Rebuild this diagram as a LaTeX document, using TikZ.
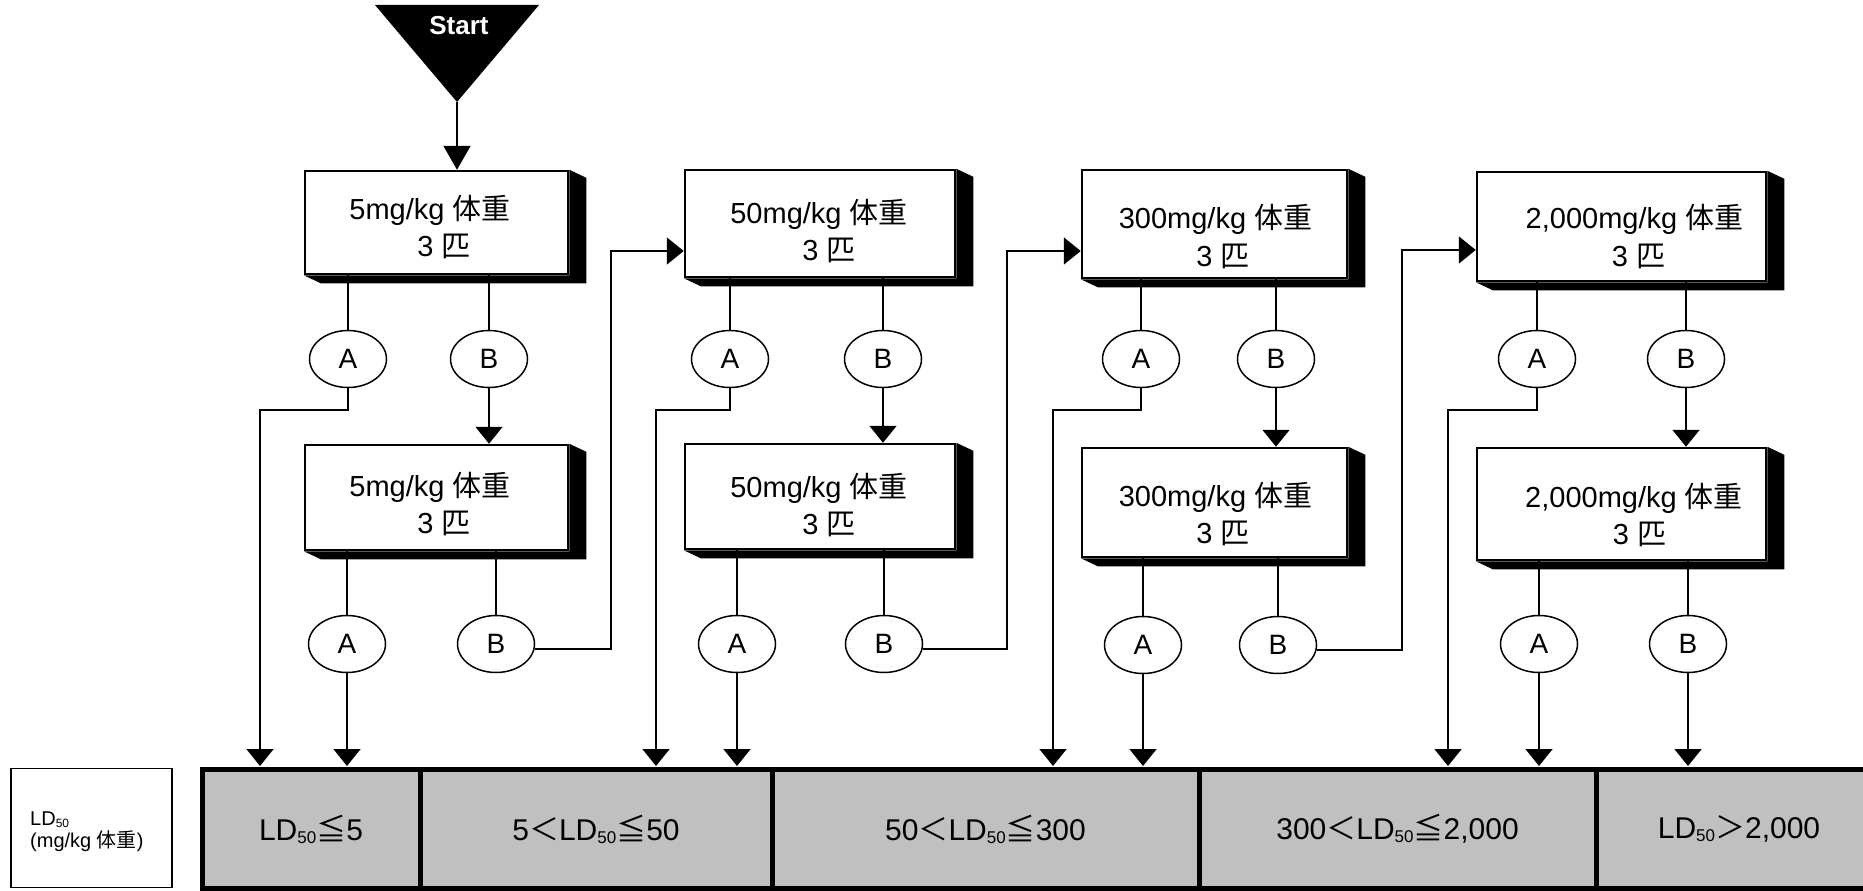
\documentclass[tikz,border=0pt]{standalone}
\usepackage{fontspec}
\setmainfont{Liberation Sans}
\newfontfamily\cjk{Noto Sans CJK JP}
\usetikzlibrary{arrows.meta,calc,shapes.geometric}
\definecolor{cellgray}{HTML}{C0C0C0}
\newcommand\extrude[1]{\fill (#1.north east) -- ++(17,8) -- ($(#1.south east)+(17,8)$) -- ($(#1.south west)+(17,8)$) -- (#1.south west) -- (#1.south east) -- cycle;}
\newcommand\ldfifty[2]{LD\raisebox{-#2}{\fontsize{#1}{#1}\selectfont 50}}
\tikzset{
  box/.style={draw, line width=2.5pt, fill=white, inner sep=0pt},
  txt/.style={font=\fontsize{29}{31}\selectfont, inner sep=0pt, anchor=base},
  oval/.style={draw, ellipse, line width=1.5pt, minimum width=77pt, minimum height=57pt, inner sep=0pt, font=\fontsize{28}{30}\selectfont, fill=white},
  conn/.style={line width=1.8pt},
  arr/.style={conn, -{Triangle[length=17pt,width=27pt]}},
  cell/.style={draw, line width=5pt, fill=cellgray, inner sep=0pt, minimum height=119.5pt, font=\fontsize{30}{32}\selectfont},
}
\begin{document}
\begin{tikzpicture}[x=1pt,y=-1pt]
\useasboundingbox (0,0) rectangle (1863,891);
% start
\fill (375,5) -- (539,5) -- (457,102) -- cycle;
\coordinate (apex) at (457,102);
\node[font=\fontsize{26}{28}\selectfont\bfseries, text=white, inner sep=0pt, anchor=base] (start) at (459,35) {Start};
% bar
\coordinate (bartop) at (0,766);
\node[cell, minimum width=218pt] (c1) at (311,829) {\ldfifty{17}{3pt}{\cjk ≦}5};
\node[cell, minimum width=352pt] (c2) at (596,829) {5{\cjk ＜}\ldfifty{17}{3pt}{\cjk ≦}50};
\node[cell, minimum width=427pt] (c3) at (985.5,829) {50{\cjk ＜}\ldfifty{17}{3pt}{\cjk ≦}300};
\node[cell, minimum width=397pt] (c4) at (1397.5,829) {300{\cjk ＜}\ldfifty{17}{3pt}{\cjk ≦}2,000};
\node[cell, minimum width=286pt] (c5) at (1739,829) {\ldfifty{17}{3pt}{\cjk ＞}2,000};
% legend box
\node[draw, line width=1.5pt, minimum width=161pt, minimum height=119pt, inner sep=0pt] (leg) at (91.5,828) {};
\node[font=\fontsize{20}{22}\selectfont, align=left, inner sep=0pt, anchor=base west] (legt) at (30,847) {\ldfifty{12}{2pt}\\(mg/kg {\cjk 体重})};
% boxes
\node[box, minimum width=263pt, minimum height=103pt] (u1) at (436.5,222.5) {};
\node[box, minimum width=263pt, minimum height=105pt] (l1) at (436.5,497.5) {};
\node[box, minimum width=270pt, minimum height=107pt] (u2) at (820,223.5) {};
\node[box, minimum width=270pt, minimum height=105pt] (l2) at (820,496.5) {};
\node[box, minimum width=265pt, minimum height=108pt] (u3) at (1214.5,224) {};
\node[box, minimum width=265pt, minimum height=109pt] (l3) at (1214.5,502.5) {};
\node[box, minimum width=289pt, minimum height=109pt] (u4) at (1621.5,226.5) {};
\node[box, minimum width=289pt, minimum height=112pt] (l4) at (1621.5,504) {};
\foreach \b in {u1,l1,u2,l2,u3,l3,u4,l4}{\extrude{\b}}
% box texts
\node[txt] (u1a) at (430,219) {5mg/kg {\cjk 体重}};
\node[txt] (u1b) at (444,256) {3 {\cjk 匹}};
\node[txt] (l1a) at (430,496) {5mg/kg {\cjk 体重}};
\node[txt] (l1b) at (444,533) {3 {\cjk 匹}};
\node[txt] (u2a) at (819,223) {50mg/kg {\cjk 体重}};
\node[txt] (u2b) at (829,260) {3 {\cjk 匹}};
\node[txt] (l2a) at (819,497) {50mg/kg {\cjk 体重}};
\node[txt] (l2b) at (829,534) {3 {\cjk 匹}};
\node[txt] (u3a) at (1215.5,228) {300mg/kg {\cjk 体重}};
\node[txt] (u3b) at (1223,266) {3 {\cjk 匹}};
\node[txt] (l3a) at (1215.5,506) {300mg/kg {\cjk 体重}};
\node[txt] (l3b) at (1223,543) {3 {\cjk 匹}};
\node[txt] (u4a) at (1634.5,228) {2,000mg/kg {\cjk 体重}};
\node[txt] (u4b) at (1638.5,266) {3 {\cjk 匹}};
\node[txt] (l4a) at (1634,507) {2,000mg/kg {\cjk 体重}};
\node[txt] (l4b) at (1639.5,544) {3 {\cjk 匹}};
% ovals
\node[oval] (A1) at (348,359) {A};
\node[oval] (B1) at (489,359) {B};
\node[oval] (la1) at (347,644) {A};
\node[oval] (lb1) at (496,644) {B};
\node[oval] (A2) at (730,359) {A};
\node[oval] (B2) at (883,359) {B};
\node[oval] (la2) at (737,644) {A};
\node[oval] (lb2) at (884,644) {B};
\node[oval] (A3) at (1141,359) {A};
\node[oval] (B3) at (1276,359) {B};
\node[oval] (la3) at (1143,645) {A};
\node[oval] (lb3) at (1278,645) {B};
\node[oval] (A4) at (1537,359) {A};
\node[oval] (B4) at (1686,359) {B};
\node[oval] (la4) at (1539,644) {A};
\node[oval] (lb4) at (1688,644) {B};
% connectors
\draw[conn, -{Triangle[length=24pt,width=27pt]}] (apex) -- (apex |- u1.north);
\foreach \u/\a/\b/\l/\la/\lb in {u1/A1/B1/l1/la1/lb1, u2/A2/B2/l2/la2/lb2, u3/A3/B3/l3/la3/lb3, u4/A4/B4/l4/la4/lb4}{
  \draw[conn] (\a |- \u.south) -- (\a.north);
  \draw[conn] (\b |- \u.south) -- (\b.north);
  \draw[arr] (\b.south) -- (\b |- \l.north);
  \draw[conn] (\la |- \l.south) -- (\la.north);
  \draw[conn] (\lb |- \l.south) -- (\lb.north);
  \draw[arr] (\la.south) -- (\la |- bartop);
}
\draw[arr] (A1.south) -- ++(0,22) -| (260,0 |- bartop);
\draw[arr] (A2.south) -- ++(0,22) -| (656,0 |- bartop);
\draw[arr] (A3.south) -- ++(0,22) -| (1053,0 |- bartop);
\draw[arr] (A4.south) -- ++(0,22) -| (1448,0 |- bartop);
\draw[arr] (lb4.south) -- (lb4 |- bartop);
\draw[arr] ([yshift=-5pt]lb1.east) -| ([xshift=-73pt,yshift=-27.5pt]u2.west) -- ([yshift=-27.5pt]u2.west);
\draw[arr] ([yshift=-5pt]lb2.east) -| ([xshift=-74pt,yshift=-27pt]u3.west) -- ([yshift=-27pt]u3.west);
\draw[arr] ([yshift=-5pt]lb3.east) -| ([xshift=-74pt,yshift=-23.5pt]u4.west) -- ([yshift=-23.5pt]u4.west);
\end{tikzpicture}
\end{document}
